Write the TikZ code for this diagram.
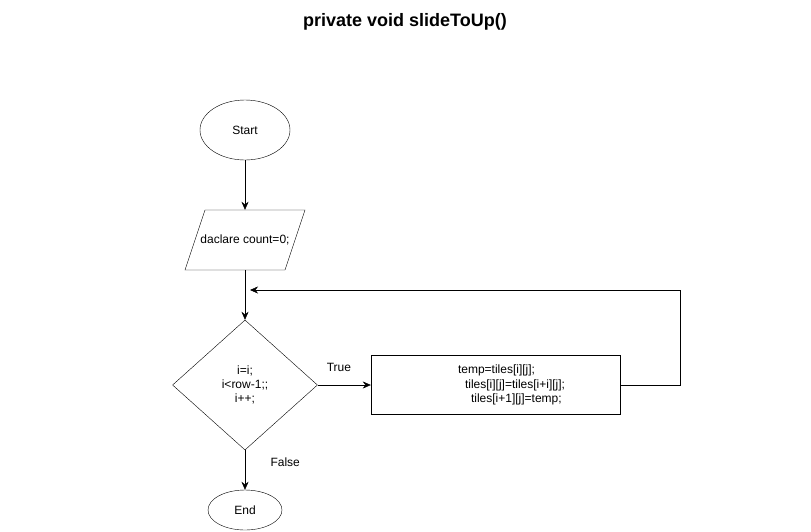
\documentclass[tikz,border=0pt]{standalone}
\usepackage{fontspec}
\setmainfont{Liberation Sans}
\usetikzlibrary{
  	positioning,
  	arrows.meta,
  	shapes.geometric,
  	calc
  }
\tikzstyle{term}=[ellipse,draw,inner sep=0pt,font=\fontsize{12}{14}\selectfont]
\tikzstyle{cond}=[diamond,draw,inner sep=0pt,minimum width=145pt,minimum height=130pt,align=center,font=\fontsize{12}{14}\selectfont]
\tikzstyle{stepbox}=[rectangle,draw,inner sep=0pt,text width=249pt,minimum height=59pt,font=\fontsize{12}{14.5}\selectfont]
\tikzstyle{lbl}=[font=\fontsize{12}{14}\selectfont]
\tikzstyle{arr}=[-{Stealth[length=8pt,width=7pt]}]

\begin{document}
\begin{tikzpicture}[x=1pt,y=-1pt]
  \useasboundingbox (0,0) rectangle (811,531);
  \node [font=\fontsize{18}{20}\selectfont\bfseries] (title) at (405,22) {private void slideToUp()};
%
  \node [term, minimum width=90pt, minimum height=60pt] (a) at (245,130) {Start};
  \node [lbl, minimum width=100pt, minimum height=60pt, inner sep=0pt] (b) at (245,240) {daclare count=0;};
  \draw ($(b)+(-40,-30)$) --
     ($(b)+(60,-30)$) --
     ($(b)+(40,30)$) --
     ($(b)+(-60,30)$) --
     cycle;
  \node [cond] (c) at (245,385) {i=i;\\ i<row-1;;\\ i++;};
  \node [stepbox, align=left] (d) at (495.5,385)
     {\hspace*{87pt}temp=tiles[i][j];\\ \hspace*{94pt}tiles[i][j]=tiles[i+i][j];\\ \hspace*{100pt}tiles[i+1][j]=temp;};
  \node [term, minimum width=74pt, minimum height=40pt] (e) at (245,510) {End};
  \coordinate (back) at (250,290);
%
  \draw [arr] (a) -- (b);
  \draw [arr] (b) -- (c);
  \draw [arr] (c) -- node [lbl, above=10pt, pos=0.4] {True} (d);
  \draw [arr] (d.east) -- ++(60,0) |- (back);
  \draw [arr] (c) -- node [lbl, right=22pt, pos=0.3] {False} (e);
\end{tikzpicture}
\end{document}
